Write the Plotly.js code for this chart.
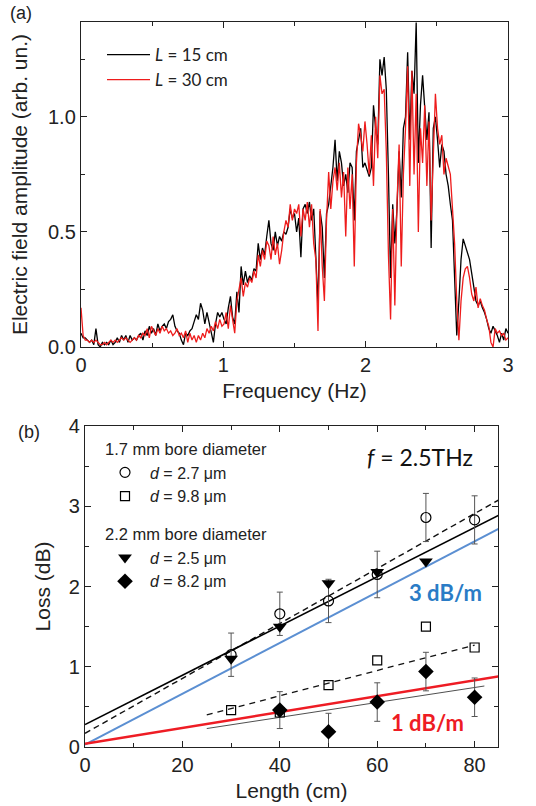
<!DOCTYPE html>
<html>
<head>
<meta charset="utf-8">
<script src="https://cdn.plot.ly/plotly-3.0.1.min.js"></script>
<style>html,body{margin:0;padding:0;background:#fff}#chart{width:536px;height:806px}</style>
</head>
<body>
<div id="chart"></div>
<script>
// ---------- Panel (a): spectra ----------
const freqStep = 0.015;
const spectrumL15 = [0.06,0.04,0.04,0.03,0.02,0.03,0.01,0.08,0.01,0.00,0.02,0.01,0.02,0.01,0.03,0.01,0.02,0.04,0.02,0.05,
0.03,0.05,0.02,0.05,0.03,0.04,0.03,0.05,0.06,0.03,0.07,0.05,0.09,0.06,0.08,0.05,0.10,0.07,0.09,0.10,
0.08,0.11,0.12,0.14,0.09,0.07,0.06,0.03,0.01,0.06,0.05,0.07,0.08,0.11,0.14,0.12,0.19,0.16,0.10,0.15,
0.11,0.06,0.02,0.10,0.15,0.13,0.15,0.12,0.10,0.17,0.22,0.13,0.10,0.24,0.15,0.35,0.27,0.33,0.28,0.31,
0.29,0.34,0.33,0.45,0.38,0.43,0.40,0.48,0.55,0.45,0.42,0.50,0.44,0.48,0.46,0.50,0.49,0.52,0.60,0.56,
0.58,0.50,0.56,0.39,0.60,0.62,0.58,0.63,0.55,0.60,0.42,0.18,0.59,0.52,0.30,0.58,0.62,0.70,0.78,0.90,
0.72,0.85,0.80,0.70,0.75,0.67,0.80,0.78,0.55,0.85,0.90,0.95,0.78,0.80,0.77,0.74,0.78,1.05,0.95,0.88,
1.25,1.18,1.26,1.12,0.75,0.30,0.62,0.45,0.60,0.85,0.65,0.95,1.00,1.28,0.90,1.20,1.10,1.41,0.80,1.05,
1.18,1.05,0.90,1.02,0.43,0.95,1.00,0.90,0.78,0.88,0.85,0.75,0.70,0.62,0.55,0.30,0.05,0.20,0.38,0.47,
0.44,0.42,0.38,0.32,0.25,0.20,0.18,0.20,0.17,0.15,0.12,0.08,0.06,0.09,0.07,0.05,0.02,0.06,0.03,0.08,0.06];
const spectrumL30 = [0.17,0.05,0.03,0.03,0.02,0.03,0.02,0.03,0.02,0.01,0.01,0.02,0.01,0.02,0.03,0.02,0.03,0.02,0.03,0.04,
0.03,0.04,0.03,0.02,0.03,0.04,0.03,0.05,0.04,0.06,0.05,0.08,0.04,0.09,0.07,0.05,0.08,0.06,0.09,0.07,
0.08,0.06,0.07,0.05,0.06,0.08,0.05,0.06,0.04,0.07,0.02,0.06,0.03,0.05,0.02,0.05,0.03,0.06,0.04,0.08,
0.06,0.09,0.07,0.11,0.08,0.12,0.09,0.10,0.15,0.08,0.18,0.12,0.06,0.20,0.25,0.30,0.22,0.28,0.26,0.30,
0.28,0.33,0.30,0.40,0.35,0.42,0.38,0.46,0.44,0.38,0.48,0.40,0.45,0.36,0.42,0.50,0.55,0.52,0.62,0.55,
0.60,0.58,0.62,0.48,0.60,0.55,0.63,0.52,0.62,0.45,0.38,0.07,0.60,0.35,0.20,0.55,0.76,0.60,0.72,0.78,
0.68,0.80,0.65,0.76,0.48,0.78,0.60,0.75,0.35,0.80,0.97,0.92,0.85,0.98,0.88,0.75,0.92,0.70,1.00,0.82,
1.18,1.10,1.12,0.85,0.40,0.12,0.60,0.18,0.62,0.88,0.35,0.75,0.95,1.22,0.70,1.20,0.75,1.10,0.50,0.95,
0.80,1.05,0.70,0.98,0.55,0.85,1.10,0.95,0.88,0.92,0.75,0.82,0.78,0.75,0.60,0.45,0.20,0.03,0.20,0.30,
0.34,0.35,0.30,0.23,0.20,0.26,0.17,0.21,0.18,0.16,0.12,0.09,0.02,0.00,0.08,0.06,0.07,0.05,0.06,0.03,0.04];
const freqs = spectrumL15.map((_, i) => +(i * freqStep).toFixed(3));

// ---------- Panel (b): loss vs length ----------
const lenCircle = [30, 40, 50, 60, 70, 80];
const lossCircle = [1.15, 1.66, 1.82, 2.15, 2.86, 2.83];
const errCircle = [0.27, 0.27, 0.27, 0.29, 0.30, 0.30];
const lenSquare = [30, 40, 50, 60, 70, 80];
const lossSquare = [0.46, 0.43, 0.77, 1.08, 1.50, 1.24];
const lenTriangle = [30, 40, 50, 60, 70];
const lossTriangle = [1.10, 1.50, 2.04, 2.18, 2.31];
const lenDiamond = [40, 50, 60, 70, 80];
const lossDiamond = [0.46, 0.19, 0.56, 0.94, 0.62];
const errDiamond = [0.23, 0.23, 0.24, 0.24, 0.24];

const fitSolidX = [0, 85], fitSolidY = [0.28, 2.89];
const fitDashX = [0, 85], fitDashY = [0.17, 3.08];
const rate3X = [0, 85], rate3Y = [0.03, 2.72];
const rate1X = [0, 85], rate1Y = [0.04, 0.88];
const fitThinX = [25, 82], fitThinY = [0.23, 0.76];
const fitDash2X = [25, 80], fitDash2Y = [0.40, 1.27];

const FONT = 'Liberation Sans, Arial, sans-serif';
const CAL = 'Lato, Carlito, Calibri, sans-serif';

const traces = [
  {x: freqs, y: spectrumL15, xaxis: 'x', yaxis: 'y', mode: 'lines', name: '<i>L</i> = 15 cm',
   line: {color: '#000000', width: 1.3}, legend: 'legend'},
  {x: freqs, y: spectrumL30, xaxis: 'x', yaxis: 'y', mode: 'lines', name: '<i>L</i> = 30 cm',
   line: {color: '#ee1c1c', width: 1.3}, legend: 'legend'},

  {x: rate3X, y: rate3Y, xaxis: 'x2', yaxis: 'y2', mode: 'lines', showlegend: false, line: {color: '#5b8fd2', width: 2}},
  {x: rate1X, y: rate1Y, xaxis: 'x2', yaxis: 'y2', mode: 'lines', showlegend: false, line: {color: '#ee1c24', width: 2.6}},
  {x: fitThinX, y: fitThinY, xaxis: 'x2', yaxis: 'y2', mode: 'lines', showlegend: false, line: {color: '#222', width: 0.8}},
  {x: fitDash2X, y: fitDash2Y, xaxis: 'x2', yaxis: 'y2', mode: 'lines', showlegend: false, line: {color: '#111', width: 1.3, dash: '6px,5px'}},
  {x: fitDashX, y: fitDashY, xaxis: 'x2', yaxis: 'y2', mode: 'lines', showlegend: false, line: {color: '#111', width: 1.4, dash: '6px,4px'}},
  {x: fitSolidX, y: fitSolidY, xaxis: 'x2', yaxis: 'y2', mode: 'lines', showlegend: false, line: {color: '#000', width: 1.6}},

  {x: lenCircle, y: lossCircle, xaxis: 'x2', yaxis: 'y2', mode: 'markers', name: '<i>d</i> = 2.7 μm',
   legend: 'legend2', legendgroup: 'g1', legendgrouptitle: {text: '1.7 mm bore diameter'},
   error_y: {type: 'data', array: errCircle, visible: true, color: '#555', thickness: 1, width: 3},
   marker: {symbol: 'circle-open', size: 10, color: '#000', line: {width: 1.2, color: '#000'}}},
  {x: lenSquare, y: lossSquare, xaxis: 'x2', yaxis: 'y2', mode: 'markers', name: '<i>d</i> = 9.8 μm',
   legend: 'legend2', legendgroup: 'g1',
   marker: {symbol: 'square-open', size: 9, color: '#000', line: {width: 1.2, color: '#000'}}},
  {x: lenTriangle, y: lossTriangle, xaxis: 'x2', yaxis: 'y2', mode: 'markers', name: '<i>d</i> = 2.5 μm',
   legend: 'legend2', legendgroup: 'g2', legendgrouptitle: {text: '2.2 mm bore diameter'},
   marker: {symbol: 'triangle-down', size: 12, color: '#000'}},
  {x: lenDiamond, y: lossDiamond, xaxis: 'x2', yaxis: 'y2', mode: 'markers', name: '<i>d</i> = 8.2 μm',
   legend: 'legend2', legendgroup: 'g2',
   error_y: {type: 'data', array: errDiamond, visible: true, color: '#555', thickness: 1, width: 3},
   marker: {symbol: 'diamond', size: 12, color: '#000'}}
];

const W = 536, H = 806;
const axBase = {
  showline: true, linecolor: '#222', linewidth: 1.2, mirror: 'ticks',
  ticks: 'inside', ticklen: 6, tickwidth: 1, tickcolor: '#222',
  showgrid: false, zeroline: false, fixedrange: true,
  tickfont: {family: FONT, size: 20, color: '#222'},
  minor: {ticks: 'inside', ticklen: 4, tickwidth: 1, tickcolor: '#222', showgrid: false}
};

const layout = {
  width: W, height: H,
  margin: {l: 0, r: 0, t: 0, b: 0},
  paper_bgcolor: '#fff', plot_bgcolor: '#fff',
  showlegend: true,
  font: {family: FONT, color: '#222'},
  xaxis: Object.assign({}, axBase, {
    domain: [81 / W, 508 / W], anchor: 'y', range: [0, 3], dtick: 1, tick0: 0,
    minor: Object.assign({}, axBase.minor, {dtick: 0.5}),
    title: {text: 'Frequency (Hz)', font: {family: FONT, size: 21, color: '#222'}, standoff: 8}
  }),
  yaxis: Object.assign({}, axBase, {
    domain: [(H - 347) / H, (H - 22) / H], anchor: 'x', range: [0, 1.412], dtick: 0.5, tick0: 0,
    tickformat: '.1f',
    minor: Object.assign({}, axBase.minor, {dtick: 0.25}),
    title: {text: 'Electric field amplitude (arb. un.)', font: {family: FONT, size: 21, color: '#222'}, standoff: 14}
  }),
  xaxis2: Object.assign({}, axBase, {
    domain: [85 / W, 498 / W], anchor: 'y2', range: [0, 84.8], dtick: 20, tick0: 0,
    minor: Object.assign({}, axBase.minor, {dtick: 10}),
    title: {text: 'Length (cm)', font: {family: FONT, size: 21, color: '#222'}, standoff: 8}
  }),
  yaxis2: Object.assign({}, axBase, {
    domain: [(H - 747) / H, (H - 426) / H], anchor: 'x2', range: [0, 4], dtick: 1, tick0: 0,
    minor: Object.assign({}, axBase.minor, {dtick: 0.5}),
    title: {text: 'Loss (dB)', font: {family: FONT, size: 21, color: '#222'}, standoff: 12}
  }),
  legend: {
    x: 102 / W, y: (H - 37) / H, xanchor: 'left', yanchor: 'top',
    bgcolor: 'rgba(0,0,0,0)', borderwidth: 0, itemwidth: 43,
    font: {family: CAL, size: 17, color: '#222'}, tracegroupgap: 0
  },
  legend2: {
    x: 100 / W, y: (H - 431) / H, xanchor: 'left', yanchor: 'top',
    bgcolor: 'rgba(0,0,0,0)', borderwidth: 0, itemwidth: 40,
    font: {family: FONT, size: 16, color: '#222'},
    grouptitlefont: {family: FONT, size: 16.5, color: '#222'},
    tracegroupgap: 13, itemclick: false
  },
  annotations: [
    {text: '(a)', xref: 'paper', yref: 'paper', x: 8 / W, y: (H - 13) / H, xanchor: 'left', yanchor: 'middle',
     showarrow: false, font: {family: FONT, size: 18, color: '#222'}},
    {text: '(b)', xref: 'paper', yref: 'paper', x: 16 / W, y: (H - 432) / H, xanchor: 'left', yanchor: 'middle',
     showarrow: false, font: {family: FONT, size: 18, color: '#222'}},
    {text: '<i>f</i> = 2.5THz', xref: 'x2', yref: 'y2', x: 68.7, y: 3.61, showarrow: false,
     font: {family: CAL, size: 23, color: '#111'}},
    {text: '<b>3 dB/m</b>', xref: 'x2', yref: 'y2', x: 74, y: 1.92, showarrow: false,
     font: {family: CAL, size: 22, color: '#2a7cc6'}},
    {text: '<b>1 dB/m</b>', xref: 'x2', yref: 'y2', x: 70.4, y: 0.30, showarrow: false,
     font: {family: CAL, size: 22, color: '#ee1c24'}}
  ]
};

Plotly.newPlot('chart', traces, layout, {displayModeBar: false, staticPlot: true});
</script>
</body>
</html>
